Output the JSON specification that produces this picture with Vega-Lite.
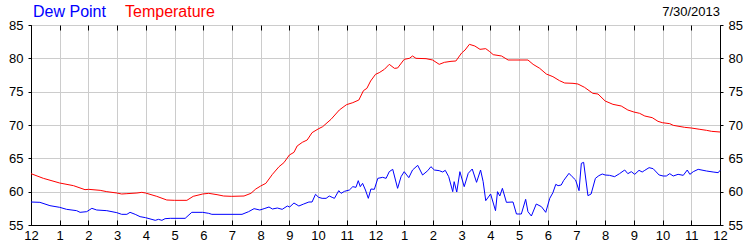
{
  "$schema": "https://vega.github.io/schema/vega-lite/v6.json",
  "width": 689,
  "height": 200,
  "autosize": "none",
  "padding": {"left": 31, "top": 25, "right": 30, "bottom": 25},
  "background": "white",
  "title": {"text": "7/30/2013", "anchor": "end", "frame": "group", "fontSize": 13, "fontWeight": "normal", "font": "Liberation Sans", "color": "black", "offset": 7, "dy": 22},
  "config": {
    "view": {"stroke": "black", "strokeWidth": 1},
    "axis": {"labelFont": "Liberation Sans", "labelFontSize": 13, "labelColor": "black", "tickColor": "black", "domainColor": "black", "gridColor": "#cccccc", "gridWidth": 1, "title": null, "labelFlush": false, "labelOverlap": false}
  },
  "data": {"values": [
    {"s":"Dew Point","h":0,"v":58.45},{"s":"Dew Point","h":0.31,"v":58.4},{"s":"Dew Point","h":0.66,"v":57.9},{"s":"Dew Point","h":1.0,"v":57.65},{"s":"Dew Point","h":1.24,"v":57.35},{"s":"Dew Point","h":1.59,"v":57.15},{"s":"Dew Point","h":1.71,"v":56.9},{"s":"Dew Point","h":1.94,"v":57.0},{"s":"Dew Point","h":2.12,"v":57.5},{"s":"Dew Point","h":2.29,"v":57.25},{"s":"Dew Point","h":2.64,"v":57.15},{"s":"Dew Point","h":2.99,"v":56.85},{"s":"Dew Point","h":3.16,"v":56.6},{"s":"Dew Point","h":3.34,"v":56.6},{"s":"Dew Point","h":3.45,"v":56.9},{"s":"Dew Point","h":3.63,"v":56.6},{"s":"Dew Point","h":3.8,"v":56.25},{"s":"Dew Point","h":3.99,"v":56.1},{"s":"Dew Point","h":4.33,"v":55.7},{"s":"Dew Point","h":4.44,"v":55.85},{"s":"Dew Point","h":4.56,"v":55.7},{"s":"Dew Point","h":4.67,"v":55.95},{"s":"Dew Point","h":4.85,"v":56.0},{"s":"Dew Point","h":5.37,"v":56.0},{"s":"Dew Point","h":5.6,"v":56.9},{"s":"Dew Point","h":5.98,"v":56.9},{"s":"Dew Point","h":6.19,"v":56.75},{"s":"Dew Point","h":6.3,"v":56.6},{"s":"Dew Point","h":7.35,"v":56.6},{"s":"Dew Point","h":7.58,"v":57.0},{"s":"Dew Point","h":7.77,"v":57.45},{"s":"Dew Point","h":7.97,"v":57.25},{"s":"Dew Point","h":8.12,"v":57.45},{"s":"Dew Point","h":8.29,"v":57.7},{"s":"Dew Point","h":8.41,"v":57.4},{"s":"Dew Point","h":8.58,"v":57.55},{"s":"Dew Point","h":8.75,"v":57.35},{"s":"Dew Point","h":8.93,"v":57.85},{"s":"Dew Point","h":9.01,"v":57.7},{"s":"Dew Point","h":9.16,"v":58.3},{"s":"Dew Point","h":9.33,"v":57.85},{"s":"Dew Point","h":9.5,"v":58.15},{"s":"Dew Point","h":9.68,"v":58.45},{"s":"Dew Point","h":9.79,"v":58.45},{"s":"Dew Point","h":9.91,"v":59.6},{"s":"Dew Point","h":10.02,"v":59.15},{"s":"Dew Point","h":10.14,"v":59.0},{"s":"Dew Point","h":10.28,"v":59.0},{"s":"Dew Point","h":10.39,"v":59.35},{"s":"Dew Point","h":10.49,"v":59.15},{"s":"Dew Point","h":10.57,"v":59.0},{"s":"Dew Point","h":10.72,"v":60.15},{"s":"Dew Point","h":10.8,"v":59.75},{"s":"Dew Point","h":10.92,"v":60.05},{"s":"Dew Point","h":11.09,"v":60.25},{"s":"Dew Point","h":11.21,"v":60.75},{"s":"Dew Point","h":11.32,"v":60.65},{"s":"Dew Point","h":11.4,"v":61.65},{"s":"Dew Point","h":11.47,"v":60.75},{"s":"Dew Point","h":11.55,"v":61.25},{"s":"Dew Point","h":11.65,"v":60.25},{"s":"Dew Point","h":11.75,"v":59.0},{"s":"Dew Point","h":11.84,"v":60.4},{"s":"Dew Point","h":11.96,"v":60.35},{"s":"Dew Point","h":12.08,"v":62.0},{"s":"Dew Point","h":12.25,"v":62.15},{"s":"Dew Point","h":12.37,"v":62.0},{"s":"Dew Point","h":12.48,"v":63.0},{"s":"Dew Point","h":12.6,"v":63.35},{"s":"Dew Point","h":12.77,"v":60.5},{"s":"Dew Point","h":12.89,"v":62.25},{"s":"Dew Point","h":13.0,"v":63.0},{"s":"Dew Point","h":13.16,"v":62.1},{"s":"Dew Point","h":13.29,"v":63.25},{"s":"Dew Point","h":13.47,"v":63.95},{"s":"Dew Point","h":13.64,"v":62.5},{"s":"Dew Point","h":13.82,"v":63.15},{"s":"Dew Point","h":13.93,"v":63.75},{"s":"Dew Point","h":14.05,"v":63.25},{"s":"Dew Point","h":14.22,"v":63.15},{"s":"Dew Point","h":14.34,"v":62.95},{"s":"Dew Point","h":14.43,"v":63.2},{"s":"Dew Point","h":14.55,"v":62.25},{"s":"Dew Point","h":14.69,"v":60.0},{"s":"Dew Point","h":14.74,"v":61.5},{"s":"Dew Point","h":14.83,"v":59.95},{"s":"Dew Point","h":14.94,"v":63.0},{"s":"Dew Point","h":15.09,"v":60.75},{"s":"Dew Point","h":15.23,"v":62.75},{"s":"Dew Point","h":15.37,"v":63.4},{"s":"Dew Point","h":15.52,"v":61.4},{"s":"Dew Point","h":15.66,"v":63.25},{"s":"Dew Point","h":15.75,"v":61.5},{"s":"Dew Point","h":15.84,"v":58.65},{"s":"Dew Point","h":16.01,"v":59.65},{"s":"Dew Point","h":16.18,"v":57.15},{"s":"Dew Point","h":16.25,"v":60.0},{"s":"Dew Point","h":16.33,"v":59.35},{"s":"Dew Point","h":16.42,"v":60.5},{"s":"Dew Point","h":16.56,"v":58.4},{"s":"Dew Point","h":16.79,"v":58.45},{"s":"Dew Point","h":16.91,"v":56.65},{"s":"Dew Point","h":17.08,"v":56.65},{"s":"Dew Point","h":17.23,"v":58.85},{"s":"Dew Point","h":17.31,"v":57.0},{"s":"Dew Point","h":17.43,"v":56.35},{"s":"Dew Point","h":17.6,"v":58.15},{"s":"Dew Point","h":17.78,"v":57.75},{"s":"Dew Point","h":17.93,"v":56.9},{"s":"Dew Point","h":18.07,"v":59.0},{"s":"Dew Point","h":18.18,"v":59.85},{"s":"Dew Point","h":18.28,"v":61.1},{"s":"Dew Point","h":18.36,"v":60.9},{"s":"Dew Point","h":18.47,"v":61.0},{"s":"Dew Point","h":18.55,"v":61.65},{"s":"Dew Point","h":18.74,"v":62.75},{"s":"Dew Point","h":18.85,"v":62.25},{"s":"Dew Point","h":18.97,"v":61.75},{"s":"Dew Point","h":19.09,"v":60.15},{"s":"Dew Point","h":19.17,"v":64.25},{"s":"Dew Point","h":19.25,"v":64.4},{"s":"Dew Point","h":19.4,"v":59.4},{"s":"Dew Point","h":19.51,"v":59.65},{"s":"Dew Point","h":19.66,"v":62.0},{"s":"Dew Point","h":19.78,"v":62.4},{"s":"Dew Point","h":19.9,"v":62.65},{"s":"Dew Point","h":20.0,"v":62.5},{"s":"Dew Point","h":20.15,"v":62.45},{"s":"Dew Point","h":20.33,"v":62.25},{"s":"Dew Point","h":20.5,"v":62.7},{"s":"Dew Point","h":20.68,"v":63.25},{"s":"Dew Point","h":20.79,"v":62.7},{"s":"Dew Point","h":20.91,"v":63.0},{"s":"Dew Point","h":21.03,"v":62.6},{"s":"Dew Point","h":21.18,"v":63.2},{"s":"Dew Point","h":21.29,"v":62.95},{"s":"Dew Point","h":21.38,"v":63.2},{"s":"Dew Point","h":21.53,"v":63.6},{"s":"Dew Point","h":21.67,"v":63.45},{"s":"Dew Point","h":21.88,"v":62.5},{"s":"Dew Point","h":22.02,"v":62.35},{"s":"Dew Point","h":22.13,"v":62.35},{"s":"Dew Point","h":22.25,"v":62.7},{"s":"Dew Point","h":22.37,"v":62.35},{"s":"Dew Point","h":22.54,"v":62.6},{"s":"Dew Point","h":22.72,"v":62.45},{"s":"Dew Point","h":22.86,"v":63.25},{"s":"Dew Point","h":22.95,"v":62.6},{"s":"Dew Point","h":23.07,"v":63.0},{"s":"Dew Point","h":23.24,"v":63.35},{"s":"Dew Point","h":23.53,"v":63.1},{"s":"Dew Point","h":23.76,"v":62.95},{"s":"Dew Point","h":23.94,"v":62.85},{"s":"Dew Point","h":24.0,"v":63.2},
    {"s":"Temperature","h":0,"v":62.7},{"s":"Temperature","h":0.43,"v":62.0},{"s":"Temperature","h":1.0,"v":61.3},{"s":"Temperature","h":1.48,"v":60.9},{"s":"Temperature","h":1.88,"v":60.3},{"s":"Temperature","h":2.01,"v":60.35},{"s":"Temperature","h":2.41,"v":60.2},{"s":"Temperature","h":2.64,"v":60.0},{"s":"Temperature","h":2.99,"v":59.8},{"s":"Temperature","h":3.16,"v":59.65},{"s":"Temperature","h":3.34,"v":59.7},{"s":"Temperature","h":3.69,"v":59.8},{"s":"Temperature","h":3.86,"v":59.9},{"s":"Temperature","h":3.99,"v":59.8},{"s":"Temperature","h":4.38,"v":59.3},{"s":"Temperature","h":4.73,"v":58.75},{"s":"Temperature","h":5.0,"v":58.7},{"s":"Temperature","h":5.43,"v":58.7},{"s":"Temperature","h":5.65,"v":59.3},{"s":"Temperature","h":5.98,"v":59.65},{"s":"Temperature","h":6.19,"v":59.75},{"s":"Temperature","h":6.48,"v":59.55},{"s":"Temperature","h":6.71,"v":59.35},{"s":"Temperature","h":6.99,"v":59.3},{"s":"Temperature","h":7.42,"v":59.35},{"s":"Temperature","h":7.66,"v":59.75},{"s":"Temperature","h":7.83,"v":60.4},{"s":"Temperature","h":8.0,"v":60.85},{"s":"Temperature","h":8.18,"v":61.25},{"s":"Temperature","h":8.41,"v":62.6},{"s":"Temperature","h":8.64,"v":63.75},{"s":"Temperature","h":8.81,"v":64.35},{"s":"Temperature","h":9.0,"v":65.5},{"s":"Temperature","h":9.16,"v":65.9},{"s":"Temperature","h":9.27,"v":66.85},{"s":"Temperature","h":9.45,"v":67.4},{"s":"Temperature","h":9.62,"v":67.75},{"s":"Temperature","h":9.79,"v":68.85},{"s":"Temperature","h":10.0,"v":69.4},{"s":"Temperature","h":10.16,"v":69.75},{"s":"Temperature","h":10.45,"v":70.85},{"s":"Temperature","h":10.74,"v":72.25},{"s":"Temperature","h":10.99,"v":73.05},{"s":"Temperature","h":11.21,"v":73.35},{"s":"Temperature","h":11.42,"v":73.75},{"s":"Temperature","h":11.58,"v":75.15},{"s":"Temperature","h":11.7,"v":75.5},{"s":"Temperature","h":11.83,"v":76.6},{"s":"Temperature","h":12.0,"v":77.6},{"s":"Temperature","h":12.13,"v":77.85},{"s":"Temperature","h":12.31,"v":78.35},{"s":"Temperature","h":12.48,"v":79.1},{"s":"Temperature","h":12.66,"v":78.5},{"s":"Temperature","h":12.77,"v":78.55},{"s":"Temperature","h":13.0,"v":79.85},{"s":"Temperature","h":13.18,"v":80.0},{"s":"Temperature","h":13.29,"v":80.35},{"s":"Temperature","h":13.41,"v":80.0},{"s":"Temperature","h":13.76,"v":79.95},{"s":"Temperature","h":13.99,"v":79.75},{"s":"Temperature","h":14.22,"v":79.1},{"s":"Temperature","h":14.4,"v":79.4},{"s":"Temperature","h":14.63,"v":79.55},{"s":"Temperature","h":14.8,"v":79.6},{"s":"Temperature","h":15.0,"v":80.8},{"s":"Temperature","h":15.12,"v":81.25},{"s":"Temperature","h":15.27,"v":82.1},{"s":"Temperature","h":15.46,"v":81.85},{"s":"Temperature","h":15.64,"v":81.35},{"s":"Temperature","h":15.84,"v":81.45},{"s":"Temperature","h":15.98,"v":81.0},{"s":"Temperature","h":16.1,"v":80.55},{"s":"Temperature","h":16.39,"v":80.35},{"s":"Temperature","h":16.62,"v":79.75},{"s":"Temperature","h":17.31,"v":79.75},{"s":"Temperature","h":17.49,"v":79.1},{"s":"Temperature","h":17.72,"v":78.5},{"s":"Temperature","h":17.95,"v":77.65},{"s":"Temperature","h":18.18,"v":77.25},{"s":"Temperature","h":18.41,"v":76.65},{"s":"Temperature","h":18.59,"v":76.3},{"s":"Temperature","h":18.88,"v":76.25},{"s":"Temperature","h":19.05,"v":76.15},{"s":"Temperature","h":19.28,"v":75.65},{"s":"Temperature","h":19.57,"v":74.75},{"s":"Temperature","h":19.75,"v":74.65},{"s":"Temperature","h":20.0,"v":73.6},{"s":"Temperature","h":20.27,"v":73.1},{"s":"Temperature","h":20.56,"v":72.85},{"s":"Temperature","h":20.79,"v":72.25},{"s":"Temperature","h":21.0,"v":71.95},{"s":"Temperature","h":21.2,"v":71.75},{"s":"Temperature","h":21.38,"v":71.35},{"s":"Temperature","h":21.64,"v":71.1},{"s":"Temperature","h":21.84,"v":70.55},{"s":"Temperature","h":21.99,"v":70.35},{"s":"Temperature","h":22.25,"v":70.2},{"s":"Temperature","h":22.37,"v":69.95},{"s":"Temperature","h":22.77,"v":69.65},{"s":"Temperature","h":23.0,"v":69.55},{"s":"Temperature","h":23.3,"v":69.35},{"s":"Temperature","h":23.53,"v":69.2},{"s":"Temperature","h":23.71,"v":69.05},{"s":"Temperature","h":24.0,"v":68.95}
  ]},
  "layer": [
    {
      "transform": [{"filter": "datum.s == 'Dew Point'"}],
      "mark": {"type": "line", "strokeWidth": 1, "interpolate": "linear"},
      "encoding": {
        "x": {"field": "h", "type": "quantitative", "scale": {"domain": [0, 24], "nice": false, "zero": false},
              "axis": {"orient": "bottom", "values": [0,1,2,3,4,5,6,7,8,9,10,11,12,13,14,15,16,17,18,19,20,21,22,23,24], "labelExpr": "datum.value % 12 == 0 ? '12' : '' + (datum.value % 12)", "grid": true, "tickSize": -5, "labelPadding": 9}},
        "y": {"field": "v", "type": "quantitative", "scale": {"domain": [55, 85], "nice": false, "zero": false},
              "axis": {"orient": "left", "values": [55,60,65,70,75,80,85], "grid": true, "tickSize": 3, "labelPadding": 5}},
        "color": {"field": "s", "type": "nominal", "scale": {"domain": ["Dew Point", "Temperature"], "range": ["#0000ff", "#ff0000"]},
                  "legend": {"orient": "none", "legendX": -14, "legendY": -21, "direction": "horizontal", "title": null, "symbolSize": 0, "symbolStrokeWidth": 0, "symbolOpacity": 0, "labelFontSize": 16, "labelFont": "Liberation Sans", "labelOffset": 0, "columnPadding": 3,
                             "encode": {"labels": {"update": {"fill": {"scale": "color", "field": "value"}}}}}}
      }
    },
    {
      "transform": [{"filter": "datum.s == 'Temperature'"}],
      "mark": {"type": "line", "strokeWidth": 1, "interpolate": "linear"},
      "encoding": {
        "x": {"field": "h", "type": "quantitative",
              "axis": {"orient": "top", "values": [0,1,2,3,4,5,6,7,8,9,10,11,12,13,14,15,16,17,18,19,20,21,22,23,24], "labels": false, "grid": false, "domain": false, "tickSize": -5}},
        "y": {"field": "v", "type": "quantitative",
              "axis": {"orient": "right", "values": [55,60,65,70,75,80,85], "grid": false, "tickSize": 3, "labelPadding": 5}},
        "color": {"field": "s", "type": "nominal"}
      }
    }
  ],
  "resolve": {"axis": {"x": "independent", "y": "independent"}}
}
